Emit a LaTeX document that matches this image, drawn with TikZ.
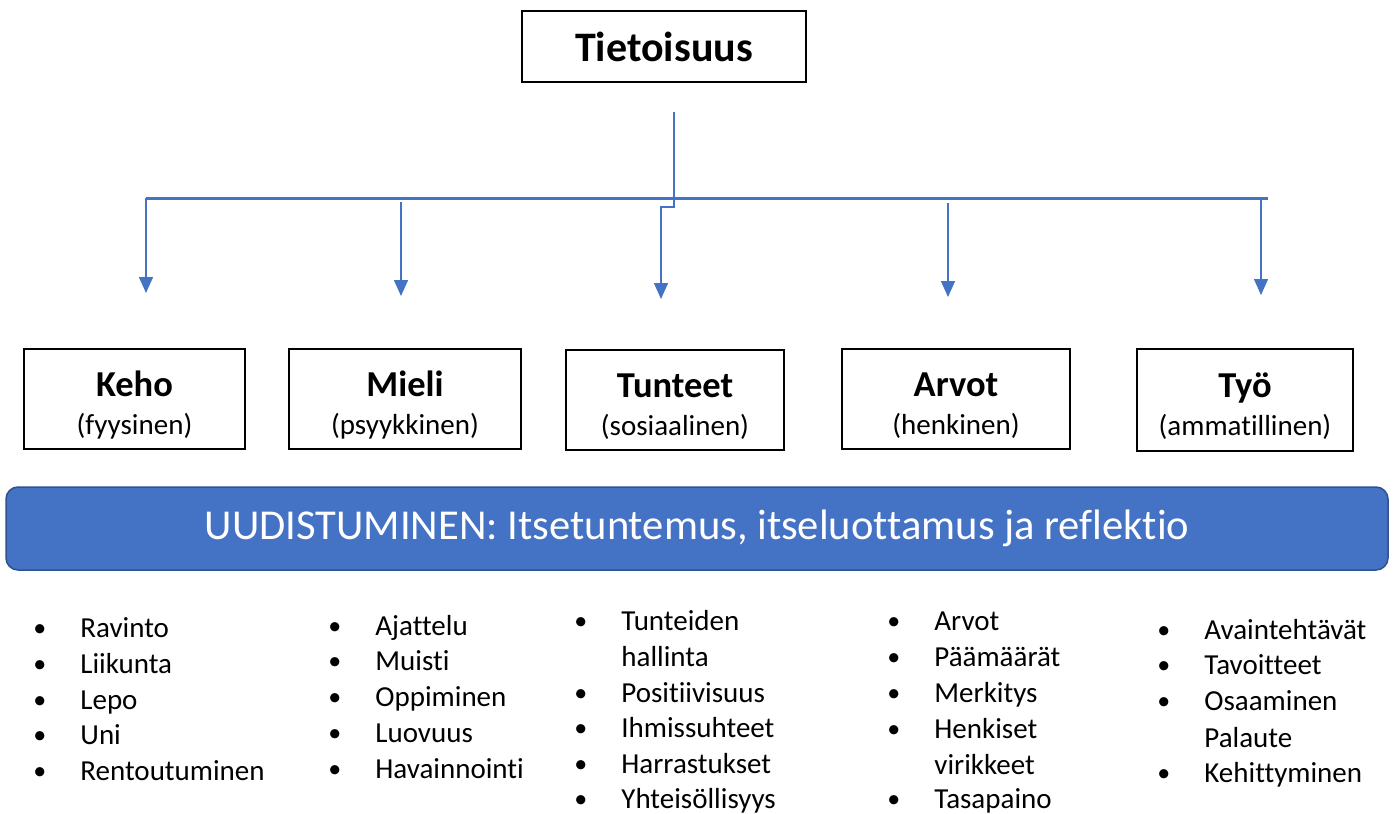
\documentclass[tikz,border=0pt]{standalone}
\usepackage{fontspec}
\setmainfont{Carlito}[Ligatures={NoCommon}]
\usetikzlibrary{positioning, arrows.meta}
\definecolor{linkblue}{HTML}{4472C4}
\definecolor{bandedge}{HTML}{2F528F}
\newcommand{\bul}{\makebox[23.5pt][l]{\raisebox{0.5pt}{\fontsize{13}{13}\selectfont•}}}
\newcommand{\hd}{\rule{0pt}{18.5pt}\fontsize{18.25}{21}\selectfont\bfseries}

\begin{document}
\begin{tikzpicture}[x=0.5pt, y=-0.5pt,
    topic/.style={draw, line width=0.9pt, minimum height=50pt, align=center,
      inner sep=0pt, font=\fontsize{14.5}{19}\selectfont},
    feed/.style={linkblue, line width=0.75pt, -{Triangle[width=7pt, length=8pt]}},
    bus/.style={linkblue, line width=1.5pt},
    item/.style={anchor=mid west, inner sep=0pt, font=\fontsize{14.5}{17.5}\selectfont}]
    \useasboundingbox (0,0) rectangle (1394,814);
    % Top box
    \node[draw, line width=0.9pt, minimum width=142pt, minimum height=35.5pt,
      font=\fontsize{21}{25}\selectfont\bfseries] (root) at (664,46.5) {Tietoisuus};
    % Trunk and bus
    \coordinate (trunk) at (674,112);
    \coordinate (bend) at (674,207);
    \coordinate (busL) at (146,198);
    \coordinate (busR) at (1268,198);
    \draw[bus] (busL) -- (busR);
    % Arrow ends (free, above the boxes)
    \coordinate (s2) at (401,202);
    \coordinate (s4) at (948,203);
    \coordinate (s5) at (1261,198);
    \coordinate (t1) at (146,293);
    \coordinate (t2) at (401,296);
    \coordinate (t3) at (661,299);
    \coordinate (t4) at (948,297);
    \coordinate (t5) at (1261,295);
    \draw[feed] (trunk) -- (bend) -- (bend -| t3) -- (t3);
    \draw[feed] (busL) -- (t1);
    \draw[feed] (s2) -- (t2);
    \draw[feed] (s4) -- (t4);
    \draw[feed] (s5) -- (t5);
    % Five areas
    \node[topic, minimum width=110.5pt] (keho) at (134.5,399) {\hd Keho\\(fyysinen)};
    \node[topic, minimum width=116pt] (mieli) at (405,399) {\hd Mieli\\(psyykkinen)};
    \node[topic, minimum width=109pt] (tunteet) at (675,400) {\hd Tunteet\\(sosiaalinen)};
    \node[topic, minimum width=114pt] (arvot) at (956,399) {\hd Arvot\\(henkinen)};
    \node[topic, minimum width=108pt, minimum height=51pt] (tyo) at (1245,400) {\hd Työ\\(ammatillinen)};
    % Banner
    \node[fill=linkblue, draw=bandedge, line width=0.75pt, rounded corners=6pt,
      minimum width=691pt, minimum height=41.5pt, text=white,
      font=\fontsize{21.3}{25}\selectfont] (renew) at (697,528.5)
      {UUDISTUMINEN: Itsetuntemus, itseluottamus ja reflektio};
    % Lists below the banner
    \node[item] (k1) at (33,633) {\bul Ravinto};
    \node[item] (k2) at (33,669) {\bul Liikunta};
    \node[item] (k3) at (33,705) {\bul Lepo};
    \node[item] (k4) at (33,740) {\bul Uni};
    \node[item] (k5) at (33,776) {\bul Rentoutuminen};
    \node[item] (m1) at (328,631) {\bul Ajattelu};
    \node[item] (m2) at (328,666) {\bul Muisti};
    \node[item] (m3) at (328,702) {\bul Oppiminen};
    \node[item] (m4) at (328,738) {\bul Luovuus};
    \node[item] (m5) at (328,774) {\bul Havainnointi};
    \node[item] (u1) at (574,626) {\bul Tunteiden};
    \node[item] (u1b) at (621,662) {hallinta};
    \node[item] (u2) at (574,698) {\bul Positiivisuus};
    \node[item] (u3) at (574,733) {\bul Ihmissuhteet};
    \node[item] (u4) at (574,769) {\bul Harrastukset};
    \node[item] (u5) at (574,804) {\bul Yhteisöllisyys};
    \node[item] (a1) at (887,626) {\bul Arvot};
    \node[item] (a2) at (887,662) {\bul Päämäärät};
    \node[item] (a3) at (887,698) {\bul Merkitys};
    \node[item] (a4) at (887,734) {\bul Henkiset};
    \node[item] (a4b) at (934,770) {virikkeet};
    \node[item] (a5) at (887,804) {\bul Tasapaino};
    \node[item] (w1) at (1157,635) {\bul Avaintehtävät};
    \node[item] (w2) at (1157,670) {\bul Tavoitteet};
    \node[item] (w3) at (1157,706) {\bul Osaaminen};
    \node[item] (w3b) at (1204,743) {Palaute};
    \node[item] (w4) at (1157,778) {\bul Kehittyminen};
  \end{tikzpicture}
\end{document}
